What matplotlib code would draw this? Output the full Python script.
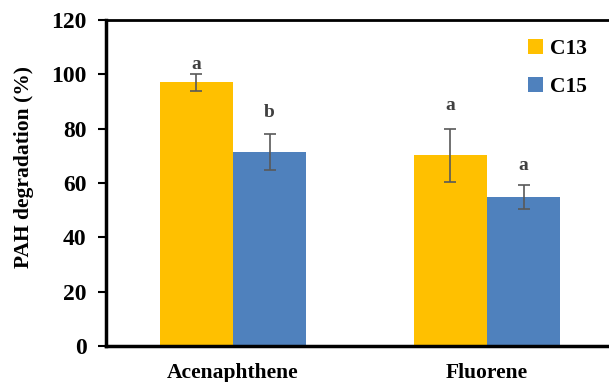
import matplotlib
matplotlib.use("Agg")
import matplotlib.pyplot as plt
import numpy as np

categories = ["Acenaphthene", "Fluorene"]
series = ["C13", "C15"]
c13_values = [97.0, 70.2]
c15_values = [71.5, 54.8]
c13_err = [3.0, 9.7]
c15_err = [6.7, 4.4]
c13_letters = ["a", "a"]
c15_letters = ["b", "a"]
c13_letter_y = [103.5, 88.7]
c15_letter_y = [86.1, 66.6]
yticks = [0, 20, 40, 60, 80, 100, 120]

plt.rcParams['font.family'] = ['Liberation Serif', 'DejaVu Serif']
plt.rcParams['font.weight'] = 'bold'

W, H = 609, 382
fig = plt.figure(figsize=(W/100, H/100), dpi=100)
ax = fig.add_axes([106/W, 1-346/H, (614-106)/W, (346-20)/H])

x = np.arange(len(categories))
w = 0.288
colors = ["#FFC000", "#4F81BD"]
ekw = dict(ecolor="#595959", elinewidth=1.2, capsize=4, capthick=1.2)
ax.bar(x - w/2, c13_values, w, yerr=c13_err, color=colors[0], label=series[0], error_kw=ekw)
ax.bar(x + w/2, c15_values, w, yerr=c15_err, color=colors[1], label=series[1], error_kw=ekw)

for xi, ly, t in zip(x - w/2, c13_letter_y, c13_letters):
    ax.text(xi, ly, t, ha='center', va='center', fontsize=14, fontweight='bold', color='#404040')
for xi, ly, t in zip(x + w/2, c15_letter_y, c15_letters):
    ax.text(xi, ly, t, ha='center', va='center', fontsize=14, fontweight='bold', color='#404040')

ax.set_xlim(-0.5, 1.5)
ax.set_ylim(0, 120)
ax.set_yticks(yticks)
ax.set_yticklabels([str(t) for t in yticks], fontsize=17, fontweight='bold')
ax.set_xticks(x)
ax.set_xticklabels(categories, fontsize=15.5, fontweight='bold')
ax.tick_params(axis='x', length=0, pad=12)
ax.tick_params(axis='y', length=6, width=1.5, direction='out', pad=8)
ax.set_ylabel("PAH degradation (%)", fontsize=15.5, fontweight='bold')
ax.yaxis.set_label_coords(-0.142, 0.549)
for s in ['left', 'bottom']:
    ax.spines[s].set_linewidth(2.5)
ax.spines['top'].set_linewidth(2)
ax.spines['right'].set_visible(False)

leg = fig.legend(loc='upper left', bbox_to_anchor=(528/W, 1-39/H), frameon=False,
                 prop={'size': 15.5, 'weight': 'bold'}, handlelength=0.7, handleheight=0.7,
                 labelspacing=0.85, handletextpad=0.3, borderpad=0, borderaxespad=0)

fig.savefig("out.png", dpi=100)
